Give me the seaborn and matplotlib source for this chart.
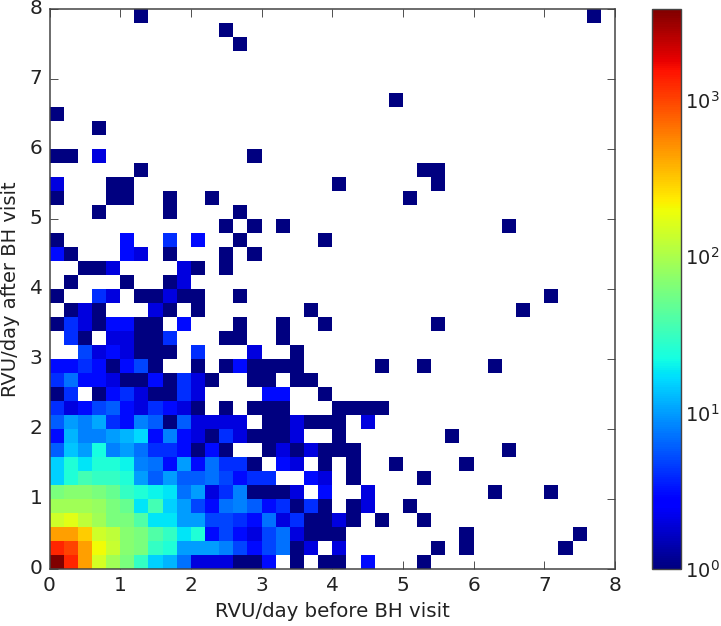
import numpy as np
import matplotlib
matplotlib.use("Agg")
import matplotlib.pyplot as plt
from matplotlib.colors import LogNorm
import seaborn as sns

# counts per cell, columns 0-19 (0-3.8 RVU/day before), rows from the bottom
row_00 = [3800, 1300, 450, 150, 90, 60, 30, 15, 12, 7, 2, 2, 2, 1, 1, 3, 0, 1, 0, 1]
row_01 = [1300, 1000, 450, 200, 130, 70, 60, 30, 25, 10, 10, 10, 8, 5, 3, 5, 7, 1, 2, 0]
row_02 = [450, 450, 300, 140, 120, 70, 60, 40, 30, 18, 25, 3, 5, 3, 2, 5, 7, 2, 1, 1]
row_03 = [140, 170, 120, 90, 60, 60, 40, 18, 18, 10, 10, 5, 5, 4, 3, 7, 2, 4, 1, 1]
row_04 = [90, 90, 90, 80, 60, 50, 18, 35, 15, 10, 5, 3, 7, 8, 6, 3, 4, 1, 4, 1]
row_05 = [60, 70, 70, 60, 50, 30, 25, 20, 18, 7, 10, 2, 4, 8, 1, 1, 1, 2, 0, 3]
row_06 = [15, 25, 35, 30, 30, 25, 10, 6, 10, 6, 6, 7, 5, 3, 4, 4, 0, 0, 3, 2]
row_07 = [15, 25, 18, 25, 25, 20, 8, 7, 3, 10, 3, 7, 4, 4, 1, 0, 3, 2, 0, 1]
row_08 = [6, 14, 10, 22, 8, 10, 7, 4, 4, 3, 1, 3, 1, 0, 0, 1, 2, 1, 2, 1]
row_09 = [3, 12, 8, 8, 10, 12, 16, 3, 8, 3, 2, 1, 4, 2, 1, 1, 1, 2, 0, 0]
row_10 = [6, 10, 8, 11, 4, 3, 8, 6, 1, 6, 2, 2, 2, 2, 0, 1, 1, 2, 1, 1]
row_11 = [4, 2, 3, 5, 6, 3, 2, 4, 3, 2, 1, 0, 1, 0, 1, 1, 1, 0, 0, 0]
row_12 = [1, 4, 0, 1, 3, 4, 2, 1, 1, 4, 2, 0, 0, 0, 0, 3, 3, 0, 0, 1]
row_13 = [4, 7, 3, 3, 2, 1, 1, 3, 1, 4, 2, 1, 0, 0, 1, 1, 0, 1, 1, 0]
row_14 = [3, 3, 4, 3, 1, 3, 5, 1, 0, 0, 1, 0, 1, 3, 1, 1, 1, 1, 0, 0]
row_15 = [0, 0, 5, 2, 3, 2, 1, 1, 1, 0, 4, 0, 0, 0, 2, 0, 0, 1, 0, 0]
row_16 = [0, 4, 1, 0, 2, 2, 1, 1, 4, 0, 0, 0, 1, 1, 0, 0, 1, 0, 0, 0]
row_17 = [1, 4, 2, 1, 3, 3, 1, 1, 0, 3, 0, 0, 0, 1, 0, 0, 1, 0, 0, 1]
row_18 = [0, 1, 2, 1, 0, 0, 0, 2, 1, 0, 1, 0, 0, 0, 0, 0, 0, 0, 1, 0]
row_19 = [1, 0, 0, 4, 2, 0, 1, 1, 2, 1, 1, 0, 0, 1, 0, 0, 0, 0, 0, 0]
row_20 = [0, 1, 0, 0, 0, 1, 0, 0, 1, 2, 0, 0, 0, 0, 0, 0, 0, 0, 0, 0]
row_21 = [0, 0, 1, 1, 2, 0, 0, 0, 0, 2, 1, 0, 1, 0, 0, 0, 0, 0, 0, 0]
row_22 = [3, 1, 0, 0, 0, 3, 2, 0, 1, 0, 0, 0, 1, 0, 1, 0, 0, 0, 0, 0]
row_23 = [1, 0, 0, 0, 0, 3, 0, 0, 4, 0, 3, 0, 0, 1, 0, 0, 0, 0, 0, 1]
row_24 = [0, 0, 0, 0, 0, 0, 0, 0, 0, 0, 0, 0, 1, 0, 1, 0, 1, 0, 0, 0]
row_25 = [0, 0, 0, 1, 0, 0, 0, 0, 1, 0, 0, 0, 0, 1, 0, 0, 0, 0, 0, 0]
row_26 = [1, 0, 0, 0, 1, 1, 0, 0, 1, 0, 0, 1, 0, 0, 0, 0, 0, 0, 0, 0]
row_27 = [2, 0, 0, 0, 1, 1, 0, 0, 0, 0, 0, 0, 0, 0, 0, 0, 0, 0, 0, 0]
row_28 = [0, 0, 0, 0, 0, 0, 1, 0, 0, 0, 0, 0, 0, 0, 0, 0, 0, 0, 0, 0]
row_29 = [1, 1, 0, 2, 0, 0, 0, 0, 0, 0, 0, 0, 0, 0, 1, 0, 0, 0, 0, 0]

near_rows = [row_00, row_01, row_02, row_03, row_04, row_05, row_06, row_07, row_08, row_09,
             row_10, row_11, row_12, row_13, row_14, row_15, row_16, row_17, row_18, row_19,
             row_20, row_21, row_22, row_23, row_24, row_25, row_26, row_27, row_28, row_29]

# scattered cells outside the block above
far_col = [20, 22, 26, 20, 27, 29, 36, 20, 29, 37, 20, 21, 23, 26, 21, 22, 25, 22, 31, 35,
           21, 26, 21, 24, 29, 20, 21, 32, 20, 28, 20, 22, 20, 21, 22, 23, 23, 26, 31,
           27, 33, 35, 32, 25, 20, 27, 26, 27, 24, 3, 0, 13, 12, 6, 38]
far_row = [0, 0, 0, 1, 1, 1, 1, 2, 2, 2, 3, 3, 3, 3, 4, 4, 4, 5, 5, 5,
           6, 6, 7, 7, 7, 8, 8, 8, 9, 9, 10, 10, 11, 11, 11, 11, 14, 14, 14,
           17, 18, 19, 24, 26, 27, 27, 28, 28, 33, 31, 32, 37, 38, 39, 39]
far_val = [1, 3, 1, 2, 1, 1, 1, 1, 1, 1, 2, 1, 1, 1, 1, 2, 1, 2, 1, 1,
           1, 1, 1, 1, 1, 1, 1, 1, 1, 1, 1, 2, 1, 1, 1, 1, 1, 1, 1,
           1, 1, 1, 1, 1, 1, 1, 1, 1, 1, 1, 1, 1, 1, 1, 1]

tick_labels = [0, 1, 2, 3, 4, 5, 6, 7, 8]

counts = np.zeros((40, 40))
counts[:30, :20] = np.array(near_rows)
for c, r, v in zip(far_col, far_row, far_val):
    counts[r, c] = v

sns.set_style("white")
plt.rcParams["font.family"] = "DejaVu Sans"

fig = plt.figure(figsize=(7.21, 6.26), dpi=100)
W, H = 721, 626
ax = fig.add_axes([49.5 / W, 1 - 569 / H, 565.5 / W, 560 / H])
cax = fig.add_axes([652 / W, 1 - 569 / H, 29 / W, 560 / H])

sns.heatmap(counts, mask=counts == 0, cmap="jet", norm=LogNorm(vmin=1, vmax=3800),
            ax=ax, cbar_ax=cax, square=False)
ax.invert_yaxis()

ticks = [t * 5 for t in tick_labels]
ax.set_xticks(ticks)
ax.set_yticks(ticks)
ax.set_xticklabels(tick_labels, rotation=0)
ax.set_yticklabels(tick_labels, rotation=0)
ax.tick_params(direction="in", length=6, width=0.6, color="#333333", top=True, right=True,
               bottom=True, left=True, labelsize=14.5, pad=5, labelcolor="#222222")
ax.set_xlabel("RVU/day before BH visit", fontsize=14.2, color="#222222", labelpad=5)
ax.set_ylabel("RVU/day after BH visit", fontsize=14, color="#222222", labelpad=7)
for s in ax.spines.values():
    s.set_visible(True)
    s.set_color("#444444")
    s.set_linewidth(1.1)

cbar = ax.collections[0].colorbar
cbar.set_ticks([1, 10, 100, 1000])
cbar.ax.minorticks_off()
cbar.ax.tick_params(direction="in", length=6, width=0.6, labelsize=14, pad=3, color="#333333",
                    labelcolor="#222222")
cbar.outline.set_visible(True)
cbar.outline.set_edgecolor("#444444")
cbar.outline.set_linewidth(1.0)

fig.savefig("out.png", dpi=100)
